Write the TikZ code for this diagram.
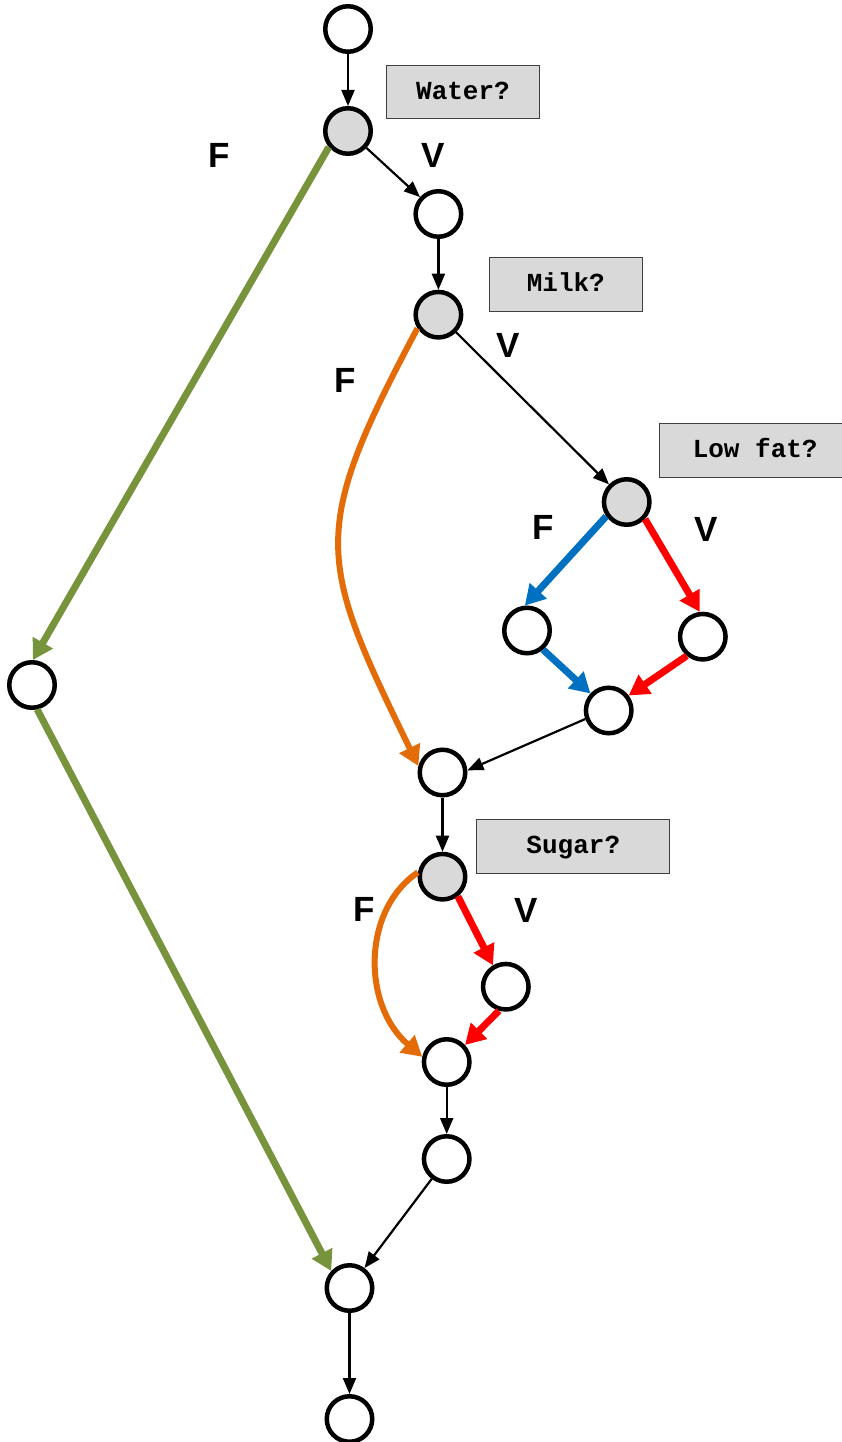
\documentclass[tikz,border=0pt]{standalone}
\usepackage{fontspec}
\setmainfont{Liberation Sans}
\newfontfamily\monofnt{Liberation Mono}
\usetikzlibrary{arrows.meta}
\definecolor{cgreen}{HTML}{77933C}
\definecolor{corange}{HTML}{E36C09}
\definecolor{cblue}{HTML}{0070C0}
\definecolor{cred}{HTML}{FF0000}
\definecolor{cgray}{HTML}{D9D9D9}
\definecolor{cborder}{HTML}{404040}
\tikzset{
  vtx/.style={circle, draw=black, line width=4.5pt, minimum size=45.5pt, inner sep=0pt, fill=white},
  dec/.style={vtx, fill=cgray},
  qbox/.style={rectangle, draw=cborder, line width=1pt, fill=cgray, inner sep=0pt,
    font=\monofnt\bfseries\fontsize{26}{30}\selectfont, text height=15pt, text depth=0pt},
  lbl/.style={inner sep=0pt, font=\bfseries\fontsize{35}{40}\selectfont},
  thin/.style={draw=black, line width=2.2pt, -{Triangle[length=16pt,width=13pt]}},
  thick/.style={line width=7pt, -{Triangle[length=20pt,width=22pt]}},
}
\begin{document}
\begin{tikzpicture}[x=1pt,y=-1pt]
\clip (0,0) rectangle (842,1442);
\fill[white] (0,0) rectangle (842,1442);
% boxes
\node[qbox, minimum width=152.6pt, minimum height=53pt] (bw) at (463,92.5) {Water?};
\node[qbox, minimum width=153pt, minimum height=54pt] (bm) at (565.8,284.3) {Milk?};
\node[qbox, minimum width=192pt, minimum height=54pt] (bl) at (755.2,450.3) {Low fat?};
\node[qbox, minimum width=193.3pt, minimum height=54pt] (bs) at (573.3,846.3) {Sugar?};
% vertices
\node[vtx] (n1) at (348,29) {};
\node[dec] (n2) at (348,131) {};
\node[vtx] (n3) at (438.4,214) {};
\node[dec] (n4) at (438.4,314.7) {};
\node[dec] (n5) at (626.7,502) {};
\node[vtx] (n6) at (527,630.5) {};
\node[vtx] (n7) at (702.8,636.7) {};
\node[vtx] (n8) at (608.7,710.5) {};
\node[vtx] (n9) at (442.5,772.5) {};
\node[dec] (n10) at (442.5,876.7) {};
\node[vtx] (n11) at (505.8,986.7) {};
\node[vtx] (n12) at (446.7,1062) {};
\node[vtx] (n13) at (446.7,1159) {};
\node[vtx] (n14) at (349.5,1288) {};
\node[vtx] (n15) at (349.5,1419) {};
\node[vtx] (n16) at (32,685) {};
% labels
\node[lbl] (f1) at (219,155) {F};
\node[lbl] (v1) at (433,155.5) {V};
\node[lbl] (v2) at (508,345) {V};
\node[lbl] (f2) at (345.5,380.5) {F};
\node[lbl] (f3) at (543.5,527.5) {F};
\node[lbl] (v3) at (706.5,529) {V};
\node[lbl] (f4) at (364,909) {F};
\node[lbl] (v4) at (526.5,910.5) {V};
% black connectors
\draw[thin] (n1) -- (n2);
\draw[thin] (n2) -- (n3);
\draw[thin] (n3) -- (n4);
\draw[thin] (n4) -- (n5);
\draw[thin] (n8.200) -- (n9.5);
\draw[thin] (n9) -- (n10);
\draw[thin] (n12) -- (n13);
\draw[thin] (n13) -- (n14);
\draw[thin] (n14) -- (n15);
% green
\draw[thick, cgreen] (n2.220) -- (n16.88);
\draw[thick, cgreen] (n16.282) -- (n14.137);
% orange
\draw[thick, corange, line width=6pt] (n4.213) to[out=242,in=116,looseness=1.35] (n9.165);
\draw[thick, corange, line width=6pt] (n10.170) .. controls (362,910) and (362,1005) .. (n12.168);
% blue
\draw[thick, cblue] (n5.215) -- (n6.95);
\draw[thick, cblue] (n6.310) -- (n8.137);
% red
\draw[thick, cred] (n5.317) -- (n7.97);
\draw[thick, cred] (n7.230) -- (n8.37);
\draw[thick, cred] (n10.308) -- (n11.121);
\draw[thick, cred] (n11.254) -- (n12.43);
\end{tikzpicture}
\end{document}
